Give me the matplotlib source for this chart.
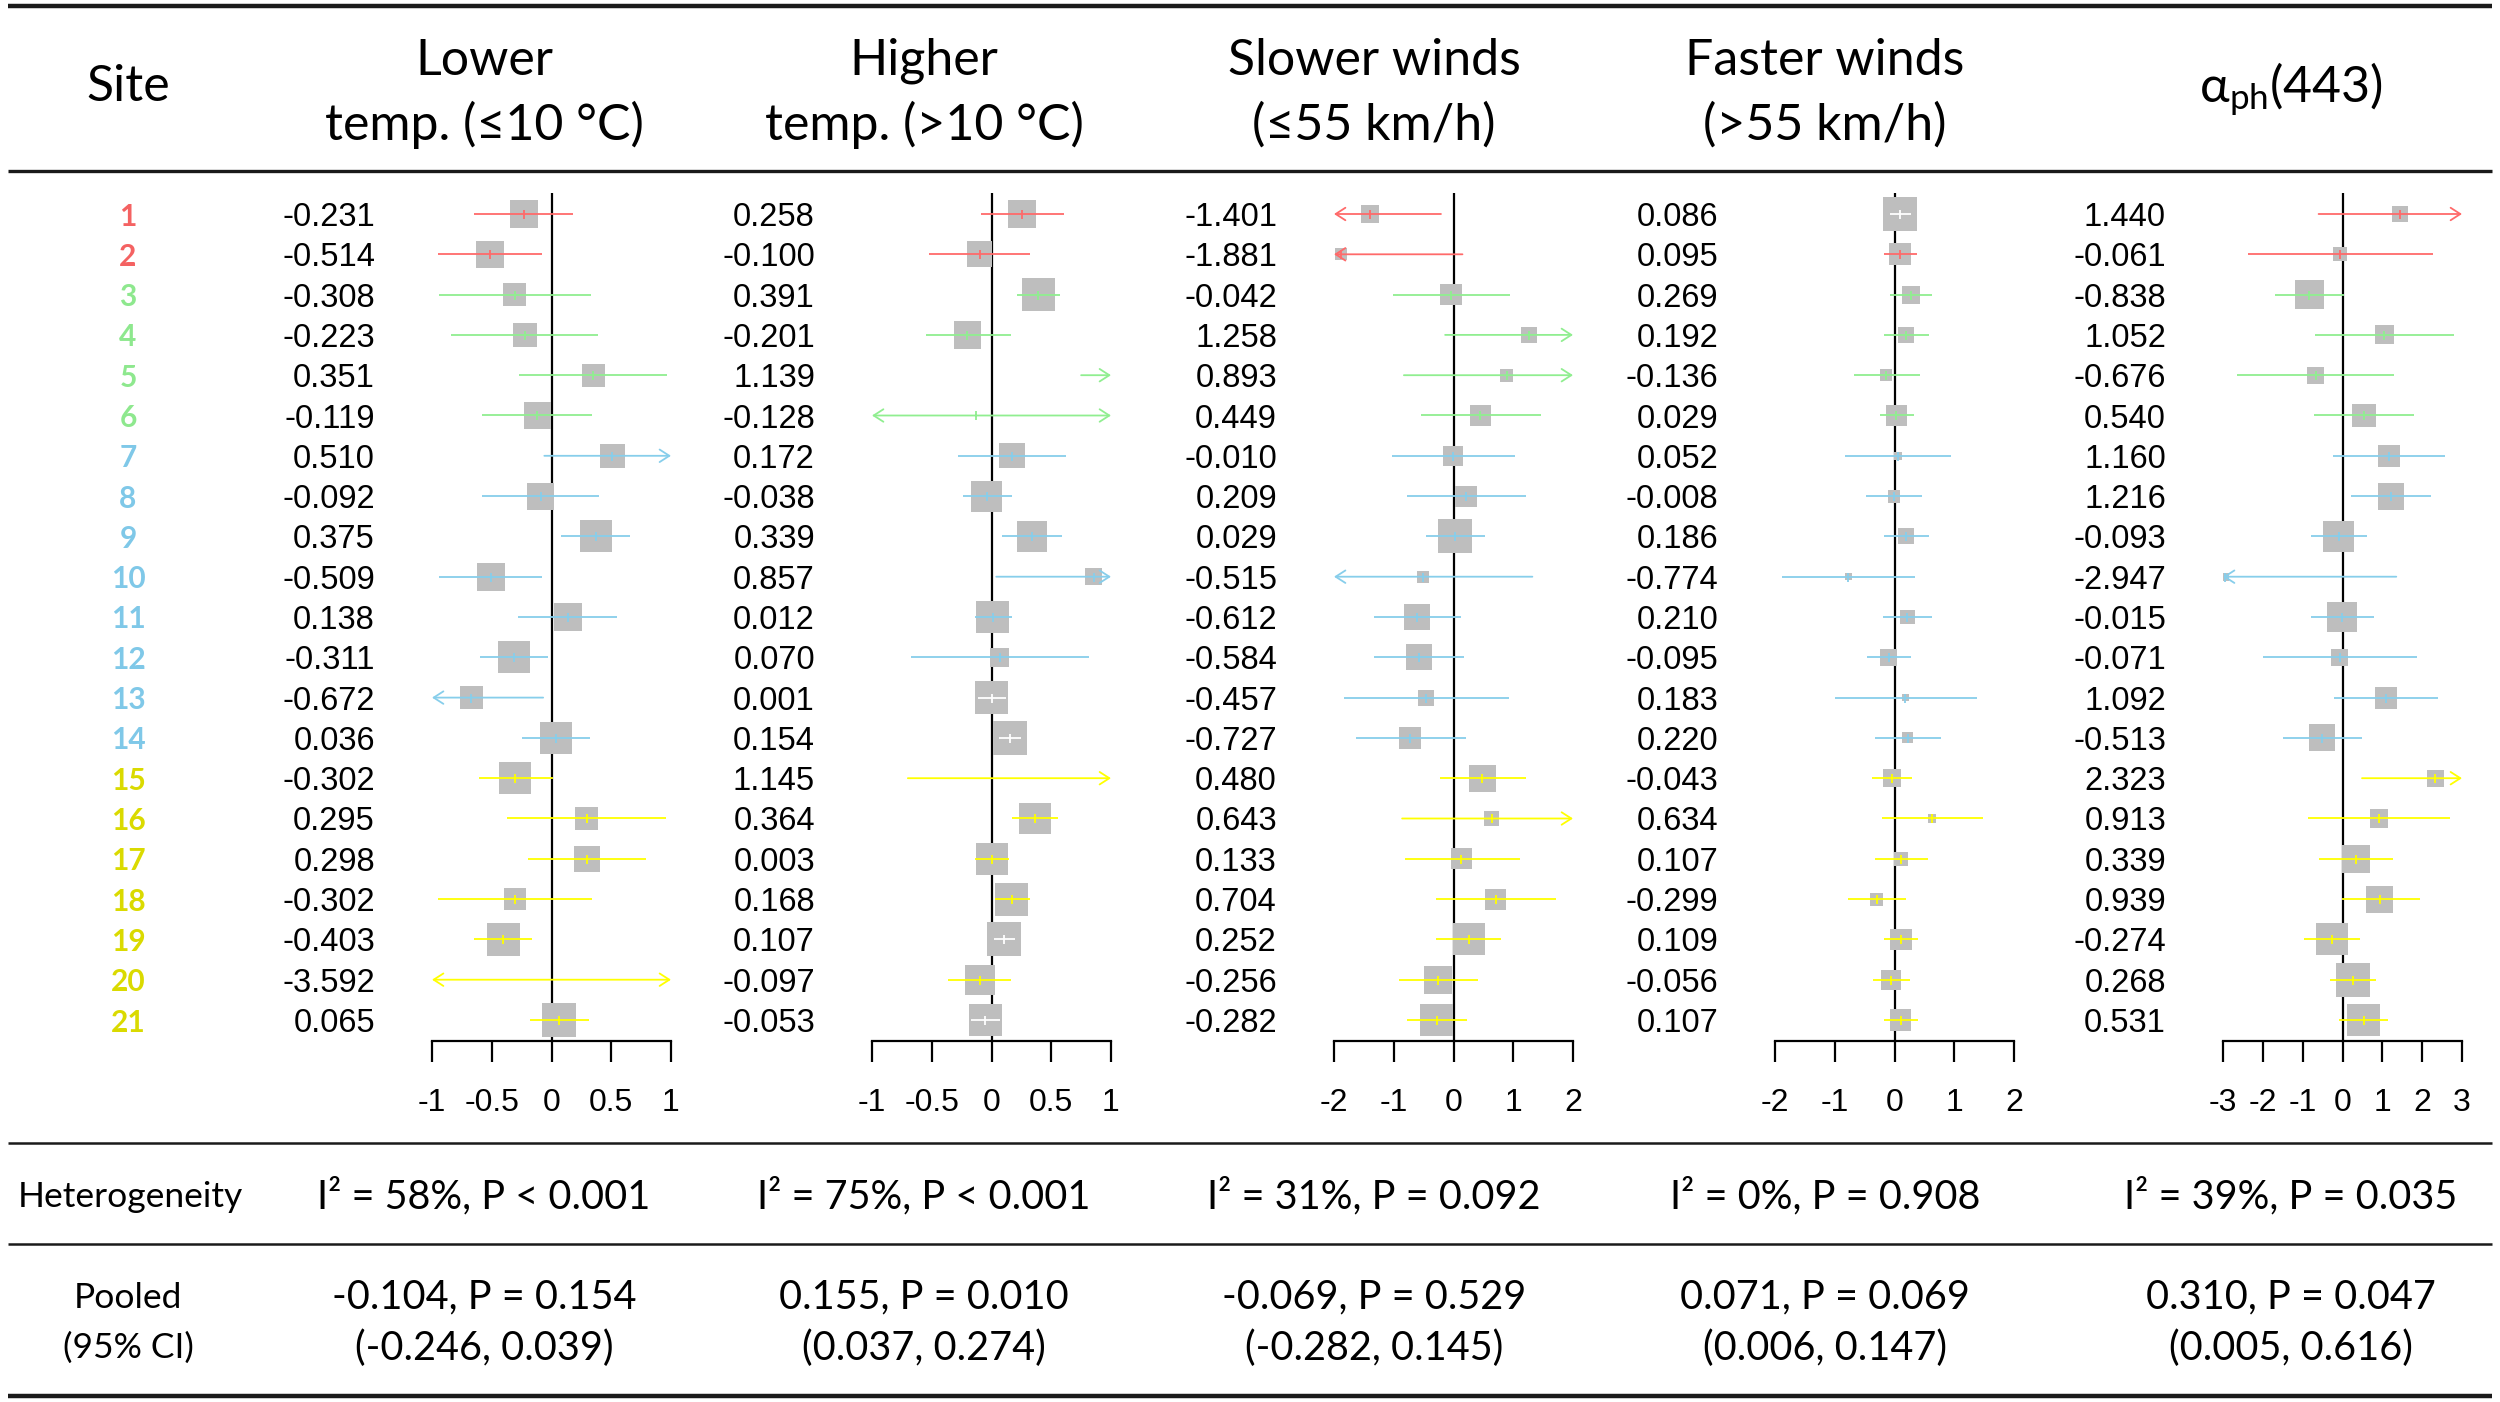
import matplotlib
matplotlib.use("Agg")
import matplotlib.pyplot as plt

# ---- data ----
sites = [str(i) for i in range(1, 22)]
site_group = ["red"] * 2 + ["green"] * 4 + ["blue"] * 8 + ["yellow"] * 7

headers = ["Lower\ntemp. (≤10 °C)", "Higher\ntemp. (>10 °C)",
           "Slower winds\n(≤55 km/h)", "Faster winds\n(>55 km/h)",
           r"$\mathrm{α_{ph}(443)}$"]

# lower temperature (<=10 C)
est_lowtemp = [-0.231, -0.514, -0.308, -0.223, 0.351, -0.119, 0.510, -0.092, 0.375, -0.509, 0.138,
               -0.311, -0.672, 0.036, -0.302, 0.295, 0.298, -0.302, -0.403, -3.592, 0.065]
lo_lowtemp = [-0.65, -0.95, -0.94, -0.84, -0.27, -0.58, -0.06, -0.58, 0.08, -0.94, -0.28,
              -0.60, -1.25, -0.25, -0.61, -0.37, -0.20, -0.95, -0.65, -7.5, -0.18]
hi_lowtemp = [0.18, -0.08, 0.33, 0.39, 0.97, 0.34, 1.08, 0.40, 0.66, -0.08, 0.55,
              -0.03, -0.07, 0.32, 0.01, 0.96, 0.79, 0.34, -0.16, 1.2, 0.31]
wt_lowtemp = [0.84, 0.81, 0.68, 0.71, 0.68, 0.79, 0.71, 0.79, 0.94, 0.82, 0.85,
              0.94, 0.68, 0.94, 0.94, 0.68, 0.76, 0.65, 0.97, 0.10, 1.00]

# higher temperature (>10 C)
est_hightemp = [0.258, -0.100, 0.391, -0.201, 1.139, -0.128, 0.172, -0.038, 0.339, 0.857, 0.012,
                0.070, 0.001, 0.154, 1.145, 0.364, 0.003, 0.168, 0.107, -0.097, -0.053]
lo_hightemp = [-0.09, -0.52, 0.21, -0.55, 0.75, -1.60, -0.28, -0.24, 0.09, 0.04, -0.14,
               -0.67, -0.11, 0.06, -0.70, 0.17, -0.14, 0.03, 0.02, -0.36, -0.17]
hi_hightemp = [0.61, 0.32, 0.57, 0.16, 1.55, 1.40, 0.62, 0.17, 0.59, 1.60, 0.17,
               0.82, 0.12, 0.25, 3.00, 0.56, 0.145, 0.32, 0.20, 0.16, 0.07]
wt_hightemp = [0.82, 0.76, 0.97, 0.82, 0.15, 0.06, 0.74, 0.91, 0.91, 0.50, 0.97,
               0.56, 0.97, 1.00, 0.12, 0.94, 0.94, 0.97, 1.00, 0.88, 0.97]

# slower winds (<=55 km/h)
est_slowwind = [-1.401, -1.881, -0.042, 1.258, 0.893, 0.449, -0.010, 0.209, 0.029, -0.515, -0.612,
                -0.584, -0.457, -0.727, 0.480, 0.643, 0.133, 0.704, 0.252, -0.256, -0.282]
lo_slowwind = [-2.6, -3.5, -1.01, -0.14, -0.83, -0.55, -1.03, -0.77, -0.46, -2.4, -1.33,
               -1.33, -1.83, -1.64, -0.23, -0.86, -0.82, -0.30, -0.29, -0.91, -0.78]
hi_slowwind = [-0.21, 0.15, 0.94, 2.66, 2.60, 1.46, 1.03, 1.21, 0.53, 1.32, 0.13,
               0.18, 0.93, 0.21, 1.21, 2.15, 1.11, 1.72, 0.80, 0.41, 0.23]
wt_slowwind = [0.53, 0.35, 0.62, 0.47, 0.38, 0.62, 0.59, 0.62, 1.00, 0.35, 0.76,
               0.76, 0.47, 0.65, 0.79, 0.44, 0.62, 0.62, 0.94, 0.82, 0.97]

# faster winds (>55 km/h)
est_fastwind = [0.086, 0.095, 0.269, 0.192, -0.136, 0.029, 0.052, -0.008, 0.186, -0.774, 0.210,
                -0.095, 0.183, 0.220, -0.043, 0.634, 0.107, -0.299, 0.109, -0.056, 0.107]
lo_fastwind = [-0.08, -0.17, -0.07, -0.18, -0.68, -0.25, -0.83, -0.47, -0.18, -1.88, -0.20,
               -0.46, -1.00, -0.32, -0.38, -0.21, -0.33, -0.78, -0.17, -0.36, -0.18]
hi_fastwind = [0.27, 0.37, 0.62, 0.58, 0.42, 0.32, 0.95, 0.46, 0.58, 0.34, 0.63,
               0.27, 1.38, 0.78, 0.30, 1.48, 0.56, 0.19, 0.40, 0.26, 0.40]
wt_fastwind = [1.00, 0.65, 0.53, 0.47, 0.35, 0.62, 0.24, 0.38, 0.47, 0.21, 0.44,
               0.50, 0.21, 0.32, 0.53, 0.24, 0.41, 0.38, 0.62, 0.59, 0.62]

# alpha_ph(443)
est_aph = [1.440, -0.061, -0.838, 1.052, -0.676, 0.540, 1.160, 1.216, -0.093, -2.947, -0.015,
           -0.071, 1.092, -0.513, 2.323, 0.913, 0.339, 0.939, -0.274, 0.268, 0.531]
lo_aph = [-0.60, -2.38, -1.69, -0.68, -2.64, -0.71, -0.24, 0.21, -0.79, -5.5, -0.80,
          -2.00, -0.21, -1.49, 0.49, -0.86, -0.59, -0.02, -0.97, -0.31, -0.08]
hi_aph = [3.50, 2.28, 0.03, 2.79, 1.30, 1.80, 2.57, 2.22, 0.62, 1.35, 0.80,
          1.88, 2.41, 0.49, 4.20, 2.69, 1.27, 1.94, 0.44, 0.85, 1.15]
wt_aph = [0.47, 0.41, 0.85, 0.56, 0.50, 0.68, 0.65, 0.79, 0.91, 0.24, 0.88,
          0.50, 0.65, 0.79, 0.50, 0.53, 0.82, 0.79, 0.94, 1.00, 0.97]

x_ticks = [[-1, -0.5, 0, 0.5, 1], [-1, -0.5, 0, 0.5, 1], [-2, -1, 0, 1, 2],
           [-2, -1, 0, 1, 2], [-3, -2, -1, 0, 1, 2, 3]]

heterogeneity = ["I² = 58%, P < 0.001", "I² = 75%, P < 0.001", "I² = 31%, P = 0.092",
                 "I² = 0%, P = 0.908", "I² = 39%, P = 0.035"]
pooled_est = ["-0.104, P = 0.154", "0.155, P = 0.010", "-0.069, P = 0.529",
              "0.071, P = 0.069", "0.310, P = 0.047"]
pooled_ci = ["(-0.246, 0.039)", "(0.037, 0.274)", "(-0.282, 0.145)",
             "(0.006, 0.147)", "(0.005, 0.616)"]

panels = [
    (est_lowtemp, lo_lowtemp, hi_lowtemp, wt_lowtemp),
    (est_hightemp, lo_hightemp, hi_hightemp, wt_hightemp),
    (est_slowwind, lo_slowwind, hi_slowwind, wt_slowwind),
    (est_fastwind, lo_fastwind, hi_fastwind, wt_fastwind),
    (est_aph, lo_aph, hi_aph, wt_aph),
]

# ---- layout / style ----
W, H, DPI = 2500, 1402, 100
PT = 72.0 / DPI                      # points per pixel
line_col = {"red": "#FF6A6A", "green": "#90EE90", "blue": "#87CEEB", "yellow": "#FFFF00"}
label_col = {"red": "#F46262", "green": "#8EE88E", "blue": "#7FC8E8", "yellow": "#DADA00"}
box_col = "#BEBEBE"
rule_col = "#1a1a1a"

ROW0, ROWH = 214, 40.3               # pixel y of first row, row pitch
AX_TOP, AX_BOT = 193, 1041           # forest axes vertical extent (px)
AX_W = 239
ax_left = [432, 872, 1334, 1775, 2223]
col_center = [484, 924, 1374, 1825, 2291]
BOX_MAX = 34                         # px side of the largest box

text_font = ["Lato", "DejaVu Sans"]
num_font = ["Liberation Sans", "DejaVu Sans"]
plt.rcParams["font.family"] = text_font
plt.rcParams["mathtext.fontset"] = "custom"
plt.rcParams["mathtext.rm"] = "Lato"
plt.rcParams["mathtext.it"] = "Lato:italic"
plt.rcParams["mathtext.bf"] = "Lato:bold"


def row_px(i):
    return ROW0 + ROWH * i


fig = plt.figure(figsize=(W / DPI, H / DPI), dpi=DPI)
bg = fig.add_axes([0, 0, 1, 1])
bg.set_xlim(0, W)
bg.set_ylim(H, 0)
bg.axis("off")

# table rules
for y, lw in [(6, 3.2), (171, 2.4), (1143, 1.8), (1244, 1.8), (1396, 3.2)]:
    bg.plot([8, 2492], [y, y], color=rule_col, lw=lw, solid_capstyle="butt")

# header
bg.text(128, 101, "Site", ha="center", va="baseline", fontsize=36)
for k, head in enumerate(headers):
    if "\n" in head:
        l1, l2 = head.split("\n")
        bg.text(col_center[k], 75, l1, ha="center", va="baseline", fontsize=36)
        bg.text(col_center[k], 140, l2, ha="center", va="baseline", fontsize=36)
    else:
        bg.text(col_center[k], 102, head, ha="center", va="baseline", fontsize=36)

# site labels
for i, s in enumerate(sites):
    bg.text(128, row_px(i), s, ha="center", va="center_baseline", fontsize=21.5,
            fontweight="bold", color=label_col[site_group[i]])

# bottom rows
bg.text(130, 1207, "Heterogeneity", ha="center", va="baseline", fontsize=25.5)
bg.text(128, 1308, "Pooled", ha="center", va="baseline", fontsize=25.5)
bg.text(128, 1358, "(95% CI)", ha="center", va="baseline", fontsize=25.5)
for k in range(5):
    bg.text(col_center[k], 1208, heterogeneity[k], ha="center", va="baseline", fontsize=28.5)
    bg.text(col_center[k], 1308, pooled_est[k], ha="center", va="baseline", fontsize=28.5)
    bg.text(col_center[k], 1360, pooled_ci[k], ha="center", va="baseline", fontsize=28.5)

# forest panels
ylo = (AX_BOT - ROW0) / ROWH
yhi = (AX_TOP - ROW0) / ROWH
for k, (est, lo, hi, wt) in enumerate(panels):
    ticks = x_ticks[k]
    xmin, xmax = ticks[0], ticks[-1]
    ppu = AX_W / (xmax - xmin)

    # estimate column
    for i, v in enumerate(est):
        bg.text(ax_left[k] - 57, row_px(i), f"{v:.3f}", ha="right", va="center_baseline",
                fontsize=23.5, family=num_font)

    ax = fig.add_axes([ax_left[k] / W, 1 - AX_BOT / H, AX_W / W, (AX_BOT - AX_TOP) / H])
    ax.set_xlim(xmin, xmax)
    ax.set_ylim(ylo, yhi)
    ax.set_facecolor("none")
    for side in ["top", "left", "right"]:
        ax.spines[side].set_visible(False)
    ax.spines["bottom"].set_linewidth(1.6)
    ax.set_yticks([])
    ax.set_xticks(ticks)
    ax.set_xticklabels([f"{t:g}" for t in ticks], family=num_font, fontsize=23)
    ax.tick_params(axis="x", length=21 * PT, width=1.6, pad=19)
    ax.axvline(0, color="black", lw=1.6, zorder=1)

    for i in range(len(est)):
        col = line_col[site_group[i]]
        side = BOX_MAX * wt[i]
        inside = xmin <= est[i] <= xmax
        if inside:
            ax.scatter([est[i]], [i], s=(side * PT) ** 2, marker="s", color=box_col,
                       edgecolors="none", zorder=2)
        # CI drawn in white when it fits inside its box
        if inside and (hi[i] - lo[i]) * ppu < side:
            col = "white"
        x0, x1 = max(lo[i], xmin), min(hi[i], xmax)
        left, right = lo[i] < xmin, hi[i] > xmax
        if left or right:
            style = {(False, True): "->", (True, False): "<-", (True, True): "<->"}[(left, right)]
            ax.annotate("", xy=(x1, i), xytext=(x0, i), zorder=3,
                        arrowprops=dict(arrowstyle=style + ",head_length=0.7,head_width=0.45",
                                        color=col, lw=1.3, shrinkA=0, shrinkB=0,
                                        mutation_scale=10))
        else:
            ax.plot([x0, x1], [i, i], color=col, lw=1.3, zorder=3, solid_capstyle="butt")
        if inside:
            ax.plot([est[i]], [i], marker="|", markersize=9 * PT, markeredgewidth=1.3,
                    color=col, zorder=4)

fig.savefig("out.png", dpi=DPI)
